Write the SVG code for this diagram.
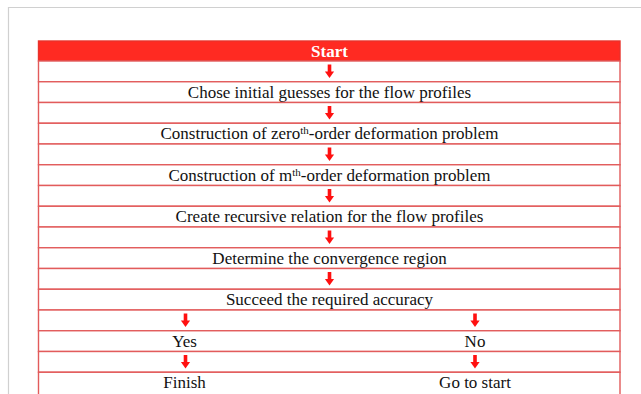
<svg xmlns="http://www.w3.org/2000/svg" xmlns:xlink="http://www.w3.org/1999/xlink" width="641" height="394" viewBox="0 0 641 394">
<style>
.frame{fill:none;stroke:#d0d0d0;stroke-width:1.2}
.row{fill:#ffffff;stroke:#e25b5b;stroke-width:1.4}
.head{fill:#ff2a22;stroke:#e8332c;stroke-width:1.4}
.t{font-family:"Liberation Serif","Times New Roman",serif;font-size:17px;fill:#111111;text-anchor:middle}
.ts{font-family:"Liberation Serif","Times New Roman",serif;font-size:17px;font-weight:bold;fill:#ffffff;text-anchor:middle}
.sup{font-size:11px}
.arr{fill:#ff1010}
</style>
<defs>
<g id="arrow">
<rect x="-1.8" y="3.5" width="3.6" height="8.5" class="arr"/>
<polygon points="-4.6,10.5 4.6,10.5 0,17" class="arr"/>
</g>
</defs>
<rect x="0" y="0" width="641" height="394" fill="#ffffff"/>
<path class="frame" d="M8.5,394 V7.5 H641"/>
<g id="rows">
<g id="node-start"><rect class="head" x="38.5" y="41" width="581.5" height="20"/><text class="ts" x="329.5" y="56.5">Start</text></g>
<g id="row-1"><rect class="row" x="38.5" y="61" width="581.5" height="20.75"/></g>
<g id="node-guess"><rect class="row" x="38.5" y="81.75" width="581.5" height="20.75"/><text class="t" x="329.5" y="97.5">Chose initial guesses for the flow profiles</text></g>
<g id="row-3"><rect class="row" x="38.5" y="102.5" width="581.5" height="20.75"/></g>
<g id="node-zeroth"><rect class="row" x="38.5" y="123.25" width="581.5" height="20.75"/><text class="t" x="329.5" y="139">Construction of zero<tspan class="sup" dy="-5">th</tspan><tspan dy="5">-order deformation problem</tspan></text></g>
<g id="row-5"><rect class="row" x="38.5" y="144" width="581.5" height="20.75"/></g>
<g id="node-mth"><rect class="row" x="38.5" y="164.75" width="581.5" height="20.75"/><text class="t" x="329.5" y="180.5">Construction of m<tspan class="sup" dy="-5">th</tspan><tspan dy="5">-order deformation problem</tspan></text></g>
<g id="row-7"><rect class="row" x="38.5" y="185.5" width="581.5" height="20.75"/></g>
<g id="node-recursive"><rect class="row" x="38.5" y="206.25" width="581.5" height="20.75"/><text class="t" x="329.5" y="222">Create recursive relation for the flow profiles</text></g>
<g id="row-9"><rect class="row" x="38.5" y="227" width="581.5" height="20.75"/></g>
<g id="node-convergence"><rect class="row" x="38.5" y="247.75" width="581.5" height="20.75"/><text class="t" x="329.5" y="263.5">Determine the convergence region</text></g>
<g id="row-11"><rect class="row" x="38.5" y="268.5" width="581.5" height="20.75"/></g>
<g id="node-accuracy"><rect class="row" x="38.5" y="289.25" width="581.5" height="20.75"/><text class="t" x="329.5" y="305">Succeed the required accuracy</text></g>
<g id="row-13"><rect class="row" x="38.5" y="310" width="581.5" height="20.75"/></g>
<g id="node-yesno"><rect class="row" x="38.5" y="330.75" width="581.5" height="20.75"/></g>
<g id="node-yes"><text class="t" x="184.5" y="346.5">Yes</text></g>
<g id="node-no"><text class="t" x="475" y="346.5">No</text></g>
<g id="row-15"><rect class="row" x="38.5" y="351.5" width="581.5" height="20.75"/></g>
<g id="node-finishrow"><rect class="row" x="38.5" y="372.25" width="581.5" height="30"/></g>
<g id="node-finish"><text class="t" x="184.5" y="388">Finish</text></g>
<g id="node-gostart"><text class="t" x="475" y="388">Go to start</text></g>
</g>
<g id="connectors">
<use xlink:href="#arrow" x="329.5" y="61"/>
<use xlink:href="#arrow" x="329.5" y="102.5"/>
<use xlink:href="#arrow" x="329.5" y="144"/>
<use xlink:href="#arrow" x="329.5" y="185.5"/>
<use xlink:href="#arrow" x="329.5" y="227"/>
<use xlink:href="#arrow" x="329.5" y="268.5"/>
<use xlink:href="#arrow" x="185.5" y="310"/>
<use xlink:href="#arrow" x="475" y="310"/>
<use xlink:href="#arrow" x="185.5" y="351.5"/>
<use xlink:href="#arrow" x="475" y="351.5"/>
</g>
</svg>
